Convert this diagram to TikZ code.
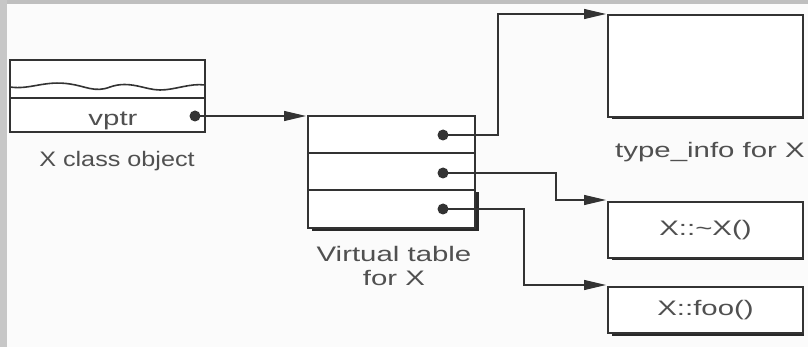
\documentclass[tikz,border=0pt]{standalone}
\usepackage{fontspec}
\setmainfont{Liberation Sans}
\usetikzlibrary{calc,arrows.meta}
\definecolor{ln}{HTML}{333333}
\definecolor{tx}{HTML}{505050}
\definecolor{bg}{HTML}{FBFBFB}
\newcommand{\wt}[2][1.4]{\scalebox{#1}[1]{#2}}
\begin{document}
\begin{tikzpicture}[x=1pt,y=-1pt,
  box/.style={draw=ln,line width=1.3pt,minimum width=#1,inner sep=0pt,outer sep=0pt,fill=white},
  lbl/.style={text=tx,font=\fontsize{21}{24}\selectfont,align=center,inner sep=0pt},
  dotm/.style={circle,fill=ln,minimum size=11pt,inner sep=0pt},
  conn/.style={draw=ln,line width=1.2pt,-{Triangle[length=22pt,width=10pt]}},
  shad/.style={draw=ln!80!black,line width=3pt}]
\useasboundingbox (0,0) rectangle (808,347);
\fill[bg] (0,0) rectangle (808,347);
\fill[black!25] (0,0) rectangle (808,4);
\fill[black!22] (0,0) rectangle (7,347);
% X class object
\node[box=195pt,minimum height=72pt] (obj) at (107.5,96) {};
\draw[ln,line width=1.2pt] (10,98) -- (205,98);
\draw[ln,line width=1.6pt] (10,87) .. controls (30,90) and (45,80) .. (70,84)
  .. controls (85,86) and (95,93) .. (110,87) .. controls (130,80) and (145,90) .. (160,90)
  .. controls (175,90) and (190,83) .. (205,85);
\node[lbl] (vptr) at (113,121) {\wt{vptr}};
\node[dotm] (d0) at (195,116) {};
\node[lbl] (objl) at (117,161) {\wt[1.2]{X class object}};
% virtual table
\draw[shad] (312,230) -- (477,230) -- (477,192);
\node[box=167pt,minimum height=37pt,anchor=north west] (vt1) at (308,116) {};
\node[box=167pt,minimum height=37pt,anchor=north west] (vt2) at (308,153) {};
\node[box=167pt,minimum height=38pt,anchor=north west] (vt3) at (308,190) {};
\node[dotm] (d1) at (443,135) {};
\node[dotm] (d2) at (443,173) {};
\node[dotm] (d3) at (443,209) {};
\node[lbl] (vtl) at (394,266) {\wt{Virtual table}\\\wt{for X}};
% targets
\draw[shad] (612,118) -- (804,118);
\node[box=195pt,minimum height=102pt,anchor=north west] (ti) at (608,15) {};
\node[lbl] (til) at (710,152) {\wt{type\_info for X}};
\draw[shad] (612,259) -- (804,259);
\node[box=195pt,minimum height=56pt,anchor=north west] (dtor) at (608,202) {};
\node[lbl] at (dtor.center) {\wt{X::\textasciitilde X()}};
\draw[shad] (612,334) -- (804,334);
\node[box=195pt,minimum height=46pt,anchor=north west] (foo) at (608,287) {};
\node[lbl] at (foo.center) {\wt{X::foo()}};
% connectors
\draw[conn] (d0.center) -- ($(vt1.north west)+(-2,0)$);
\draw[conn] (d1.center) -- (498,135) |- ($(ti.north west)+(-2,-1)$);
\draw[conn] (d2.center) -- (556,173) |- ($(dtor.north west)+(-2,-2)$);
\draw[conn] (d3.center) -- (524,209) |- ($(foo.north west)+(-2,-2)$);
\end{tikzpicture}
\end{document}
